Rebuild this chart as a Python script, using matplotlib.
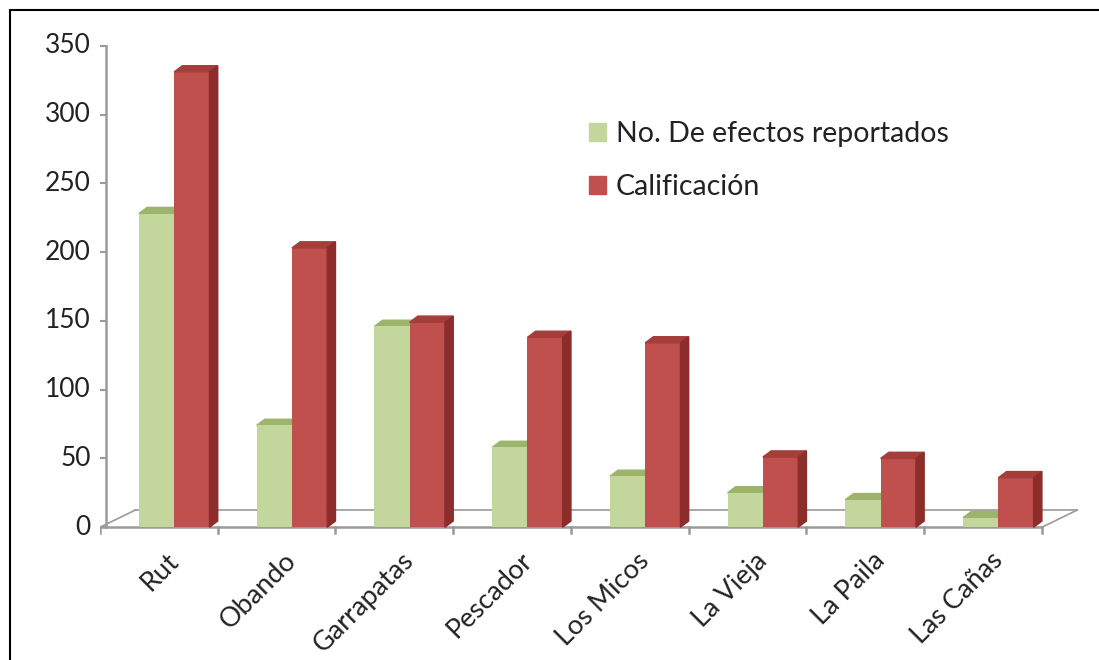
import matplotlib
matplotlib.use("Agg")
import matplotlib.pyplot as plt
from matplotlib.patches import Polygon, Rectangle

# data
rios = ["Rut", "Obando", "Garrapatas", "Pescador", "Los Micos", "La Vieja", "La Paila", "Las Cañas"]
efectos = [228, 74, 146, 58, 37, 25, 20, 7]
calificacion = [331, 203, 149, 138, 134, 51, 50, 36]
yticks = [0, 50, 100, 150, 200, 250, 300, 350]

plt.rcParams['font.family'] = ['Lato', 'DejaVu Sans']

verde = "#C3D69B"
verde_top = "#9CB46B"
rojo = "#C0504D"
rojo_side = "#8C2D2B"
rojo_top = "#A53E3B"

fig = plt.figure(figsize=(10.99, 6.6), dpi=100)
# frame around the chart
fig.patches.append(Rectangle((10/1099, -0.01), 1.0, 1 - 10/660 + 0.01, transform=fig.transFigure,
                             fill=False, edgecolor="black", linewidth=1.5))

ax = fig.add_axes([100/1099, 119/660, 989/1099, 509/660])
ax.set_xlim(0, 8.4)
ax.set_ylim(-10, 360)

bw = 0.3     # bar width in category units
ddx = 0.07   # bar depth offset (x)
ddy = 4.5    # bar depth offset (y, value units)
fdx = 0.3    # floor depth
fdy = 12.5

# floor
ax.plot([0, 8], [0, 0], color="#9a9a9a", lw=1.8, zorder=1)
ax.plot([fdx, 8 + fdx], [fdy, fdy], color="#9a9a9a", lw=1.2, zorder=1)
ax.plot([0, fdx], [0, fdy], color="#9a9a9a", lw=1.2, zorder=1)
ax.plot([8, 8 + fdx], [0, fdy], color="#9a9a9a", lw=1.2, zorder=1)
for i in range(9):
    ax.plot([i, i], [0, -4], color="#9a9a9a", lw=1.8, zorder=1)

# vertical axis
ax.plot([0.05, 0.05], [0, 350], color="#9a9a9a", lw=1.8, zorder=1)
for t in yticks:
    ax.plot([-0.02, 0.05], [t, t], color="#9a9a9a", lw=1.5, zorder=1)
    ax.text(-0.08, t, str(t), ha="right", va="center", fontsize=19, color="#222222")

for i in range(len(rios)):
    xg = i + 0.33
    xr = xg + bw
    g = efectos[i]
    r = calificacion[i]
    # green bar: front + top
    ax.bar(xg, g, width=bw, align="edge", color=verde, zorder=3)
    ax.add_patch(Polygon([(xg, g), (xg + ddx, g + ddy), (xg + bw + ddx, g + ddy), (xg + bw, g)],
                         closed=True, color=verde_top, zorder=2))
    # red bar: front + top + side
    ax.bar(xr, r, width=bw, align="edge", color=rojo, zorder=4)
    ax.add_patch(Polygon([(xr, r), (xr + ddx, r + ddy), (xr + bw + ddx, r + ddy), (xr + bw, r)],
                         closed=True, color=rojo_top, zorder=4))
    ax.add_patch(Polygon([(xr + bw, 0), (xr + bw + ddx, ddy), (xr + bw + ddx, r + ddy), (xr + bw, r)],
                         closed=True, color=rojo_side, zorder=4))
    ax.text(i + 0.56, -15, rios[i], rotation=45, ha="right", va="top", rotation_mode="anchor",
            fontsize=19.5, color="#222222")

ax.axis("off")

# legend
h1 = Rectangle((0, 0), 1, 1, color=verde)
h2 = Rectangle((0, 0), 1, 1, color=rojo)
fig.legend([h1, h2], ["No. De efectos reportados", "Calificación"], loc="upper left",
           bbox_to_anchor=(563/1099, 1 - 95/660), frameon=False, fontsize=20.5,
           handlelength=0.6, handleheight=0.6, handletextpad=0.35, labelspacing=0.95,
           labelcolor="#222222")

fig.savefig("out.png", dpi=100)
